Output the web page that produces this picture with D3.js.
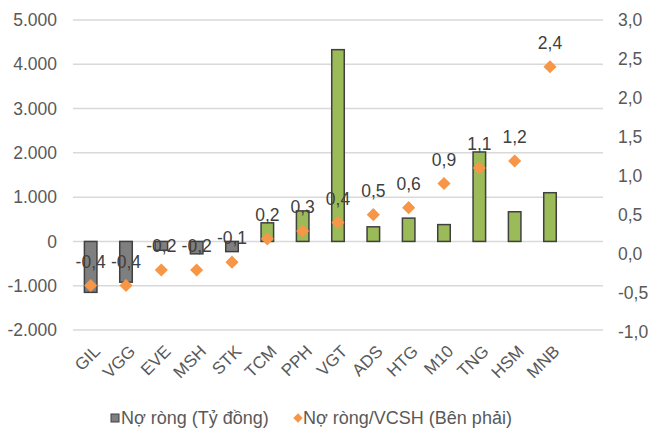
<!DOCTYPE html>
<html><head><meta charset="utf-8">
<script src="https://cdn.jsdelivr.net/npm/d3@7"></script>
<style>body{margin:0;background:#fff}svg{display:block;font-family:"Liberation Sans",Arial,sans-serif}</style>
</head><body><svg id="c" width="650" height="432"></svg>
<script>
const categories = ["GIL","VGG","EVE","MSH","STK","TCM","PPH","VGT","ADS","HTG","M10","TNG","HSM","MNB"];
const netDebt = [-1150,-920,-200,-280,-230,420,690,4330,330,526,380,2020,670,1100];
const debtToEquity = [-0.41,-0.41,-0.21,-0.21,-0.11,0.19,0.29,0.40,0.50,0.59,0.90,1.10,1.19,2.40];
const leftTicks = [-2000,-1000,0,1000,2000,3000,4000,5000];
const rightTicks = [-1,-0.5,0,0.5,1,1.5,2,2.5,3];
const legendLabels = ["Nợ ròng (Tỷ đồng)","Nợ ròng/VCSH (Bên phải)"];

const loc = d3.formatLocale({decimal:",",thousands:".",grouping:[3],currency:["",""],minus:"-"});
const fL = loc.format(",.0f"), fR = loc.format(".1f");

const svg = d3.select("#c");
const L = 73, R = 603, T = 20, B = 330;
const step = (R - L) / 15;
const x = d3.scaleBand().domain(categories).range([L, L + step*categories.length])
  .paddingInner(0.645).paddingOuter(0.645/2);
const yL = d3.scaleLinear().domain([-2000,5000]).range([B,T]);
const yR = d3.scaleLinear().domain([-1,3]).range([B+1.5,T]);
const FS = "17.5px";

// gridlines
svg.append("g").selectAll("line").data(leftTicks).join("line")
  .attr("x1",L).attr("x2",R).attr("y1",d=>yL(d)).attr("y2",d=>yL(d))
  .attr("stroke","#d9d9d9").attr("stroke-width",1.5);

// left axis
const axL = svg.append("g").attr("transform",`translate(${L},0)`)
  .call(d3.axisLeft(yL).tickValues(leftTicks).tickFormat(fL).tickSize(0).tickPadding(16));
axL.select(".domain").remove();
axL.selectAll("text").attr("fill","#595959").style("font-size",FS).attr("font-family","Liberation Sans, Arial, sans-serif");

// right axis
const axR = svg.append("g").attr("transform",`translate(${R},0)`)
  .call(d3.axisRight(yR).tickValues(rightTicks).tickFormat(fR).tickSize(0).tickPadding(15));
axR.select(".domain").remove();
axR.selectAll("text").attr("fill","#595959").style("font-size",FS).attr("font-family","Liberation Sans, Arial, sans-serif");

// bars
svg.append("g").selectAll("rect").data(categories).join("rect")
  .attr("x",d=>x(d)).attr("width",x.bandwidth())
  .attr("y",(d,i)=>yL(Math.max(0,netDebt[i])))
  .attr("height",(d,i)=>Math.abs(yL(netDebt[i])-yL(0)))
  .attr("fill",(d,i)=>netDebt[i]<0?"#7f7f7f":"#9bbb59")
  .attr("stroke","#404040").attr("stroke-width",1.5);

// diamonds
const sym = d3.symbol().type(d3.symbolDiamond2).size(110);
svg.append("g").selectAll("path").data(categories).join("path")
  .attr("d",sym)
  .attr("transform",(d,i)=>`translate(${x(d)+x.bandwidth()/2},${yR(debtToEquity[i])})`)
  .attr("fill","#f79646");

// data labels
svg.append("g").selectAll("text").data(categories).join("text")
  .attr("x",d=>x(d)+x.bandwidth()/2)
  .attr("y",(d,i)=>yR(debtToEquity[i])-24)
  .attr("dy","0.35em").attr("text-anchor","middle")
  .attr("fill","#404040").style("font-size",FS)
  .text((d,i)=>fR(debtToEquity[i]));

// category labels
svg.append("g").selectAll("text").data(categories).join("text")
  .attr("transform",d=>`translate(${x(d)+x.bandwidth()/2+2},${B+14}) rotate(-45)`)
  .attr("text-anchor","end").attr("dy","0.7em")
  .attr("fill","#595959").style("font-size","17px")
  .text(d=>d);

// legend
const lg = svg.append("g");
lg.append("rect").attr("x",111).attr("y",414).attr("width",8).attr("height",8).attr("fill","#7f7f7f").attr("stroke","#404040").attr("stroke-width",1);
lg.append("text").attr("x",121).attr("y",418).attr("dy","0.35em").attr("fill","#595959").style("font-size","18px").text(legendLabels[0]);
lg.append("path").attr("d",d3.symbol().type(d3.symbolDiamond2).size(55)).attr("transform","translate(298,418)").attr("fill","#f79646");
lg.append("text").attr("x",303).attr("y",418).attr("dy","0.35em").attr("fill","#595959").style("font-size","18px").text(legendLabels[1]);
</script></body></html>
